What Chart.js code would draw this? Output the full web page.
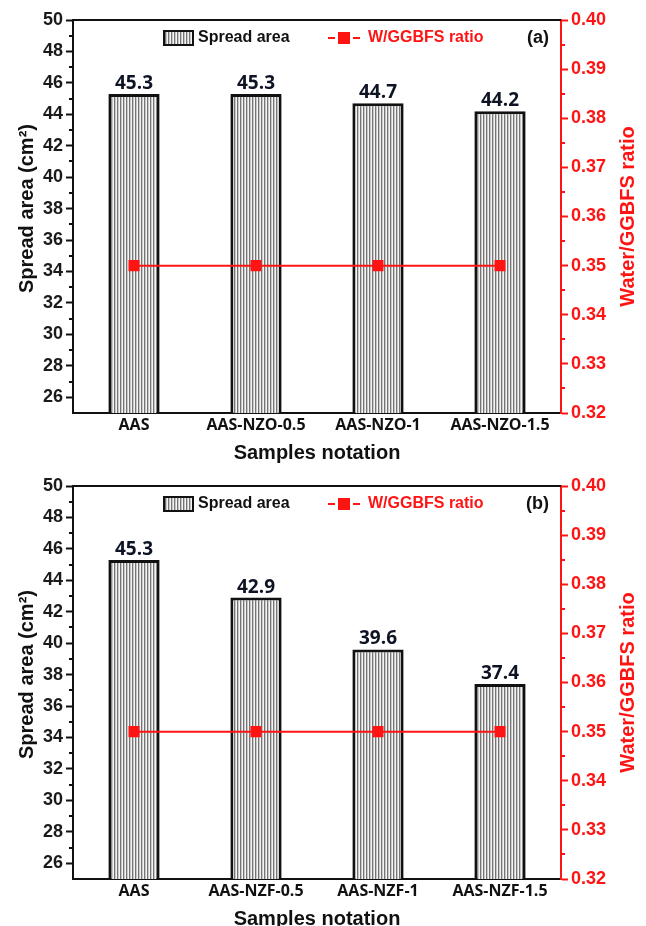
<!DOCTYPE html>
<html>
<head>
<meta charset="utf-8">
<script src="https://cdn.jsdelivr.net/npm/chart.js@4.4.1/dist/chart.umd.min.js"></script>
<style>
  html, body { margin: 0; padding: 0; background: #fff; }
  #wrap { position: relative; width: 646px; height: 926px; }
  .panel { position: absolute; left: 0; width: 646px; height: 463px; }
</style>
</head>
<body>
<div id="wrap">
  <div class="panel" style="top:0"><canvas id="chartA" width="646" height="463"></canvas></div>
  <div class="panel" style="top:463px"><canvas id="chartB" width="646" height="463"></canvas></div>
</div>
<script>
// Sample names for each panel
const samplesA = ['AAS', 'AAS-NZO-0.5', 'AAS-NZO-1', 'AAS-NZO-1.5'];
const samplesB = ['AAS', 'AAS-NZF-0.5', 'AAS-NZF-1', 'AAS-NZF-1.5'];

// Spread area (cm²)
const spreadA = [45.3, 45.3, 44.7, 44.2];
const spreadB = [45.3, 42.9, 39.6, 37.4];

// Water / GGBFS ratio
const ratioA = [0.35, 0.35, 0.35, 0.35];
const ratioB = [0.35, 0.35, 0.35, 0.35];

// Axis ticks
const leftTicks = [26, 28, 30, 32, 34, 36, 38, 40, 42, 44, 46, 48, 50];
const leftMinor = [27, 29, 31, 33, 35, 37, 39, 41, 43, 45, 47, 49];
const rightTicks = [0.32, 0.33, 0.34, 0.35, 0.36, 0.37, 0.38, 0.39, 0.40];
const rightMinor = [0.325, 0.335, 0.345, 0.355, 0.365, 0.375, 0.385, 0.395];

const RED = '#ff1414';
const INK = '#111111';
const ARIAL = "'Liberation Sans', Arial, sans-serif";
const CALI = "'Open Sans', 'Noto Sans', sans-serif";

// Vertical-stripe fill for the bars
function stripePattern() {
  const c = document.createElement('canvas');
  c.width = 3; c.height = 4;
  const g = c.getContext('2d');
  g.fillStyle = '#f4f4f4'; g.fillRect(0, 0, 3, 4);
  g.fillStyle = '#757575'; g.fillRect(0, 0, 1, 4);
  g.fillStyle = '#c8c8c8'; g.fillRect(1, 0, 1, 4);
  return g.createPattern(c, 'repeat');
}

// Minor ticks, top frame line, value labels, legend, axis titles
const decorPlugin = {
  id: 'decor',
  afterDatasetsDraw(chart, args, opts) {
    const ctx = chart.ctx;
    const area = chart.chartArea;
    const yL = chart.scales.y, yR = chart.scales.y1;
    ctx.save();

    // top frame
    ctx.strokeStyle = INK; ctx.lineWidth = 2;
    ctx.beginPath(); ctx.moveTo(area.left - 1, area.top); ctx.lineTo(area.right, area.top); ctx.stroke();

    // minor ticks
    ctx.lineWidth = 2;
    ctx.strokeStyle = INK;
    leftMinor.forEach(v => {
      const p = Math.round(yL.getPixelForValue(v));
      ctx.beginPath(); ctx.moveTo(area.left, p); ctx.lineTo(area.left - 4, p); ctx.stroke();
    });
    ctx.strokeStyle = RED;
    rightMinor.forEach(v => {
      const p = Math.round(yR.getPixelForValue(v));
      ctx.beginPath(); ctx.moveTo(area.right, p); ctx.lineTo(area.right + 4, p); ctx.stroke();
    });

    // bar value labels
    const barMeta = chart.getDatasetMeta(1);
    const vals = chart.data.datasets[1].data;
    ctx.fillStyle = '#0e1424';
    ctx.font = 'bold 19px ' + CALI;
    ctx.textAlign = 'center';
    ctx.textBaseline = 'alphabetic';
    barMeta.data.forEach((bar, i) => {
      ctx.fillText(vals[i].toFixed(1), bar.x, bar.y - 5);
    });

    // legend
    const ly = area.top + 18;
    const bx = area.left + 91;
    ctx.fillStyle = stripePattern();
    ctx.fillRect(bx, ly - 7, 29, 14);
    ctx.strokeStyle = INK; ctx.lineWidth = 2;
    ctx.strokeRect(bx, ly - 7, 29, 14);
    ctx.fillStyle = INK;
    ctx.font = 'bold 16px ' + ARIAL;
    ctx.textAlign = 'left'; ctx.textBaseline = 'middle';
    ctx.fillText('Spread area', bx + 34, ly);

    const rx = area.left + 255;
    ctx.strokeStyle = RED; ctx.lineWidth = 2;
    ctx.beginPath(); ctx.moveTo(rx, ly); ctx.lineTo(rx + 7, ly); ctx.stroke();
    ctx.beginPath(); ctx.moveTo(rx + 25, ly); ctx.lineTo(rx + 32, ly); ctx.stroke();
    ctx.fillStyle = RED;
    ctx.fillRect(rx + 10, ly - 6, 12, 12);
    ctx.font = 'bold 16px ' + ARIAL;
    ctx.fillText('W/GGBFS ratio', rx + 40, ly);

    ctx.fillStyle = INK;
    ctx.font = 'bold 18px ' + ARIAL;
    ctx.textAlign = 'right';
    ctx.fillText(opts.tag, area.right - 12, ly);

    // axis titles
    const midY = (area.top + area.bottom) / 2;
    ctx.font = 'bold 20px ' + ARIAL;
    ctx.textAlign = 'center'; ctx.textBaseline = 'middle';
    ctx.fillStyle = INK;
    ctx.fillText('Samples notation', (area.left + area.right) / 2, area.bottom + 40);

    ctx.save();
    ctx.translate(27, midY - 8);
    ctx.rotate(-Math.PI / 2);
    ctx.fillText('Spread area (cm\u00B2)', 0, 0);
    ctx.restore();

    ctx.save();
    ctx.fillStyle = RED;
    ctx.translate(area.right + 67, midY);
    ctx.rotate(-Math.PI / 2);
    ctx.fillText('Water/GGBFS ratio', 0, 0);
    ctx.restore();

    ctx.restore();
  }
};

function makeChart(id, labels, spread, ratio, tag, padTop, xHeight) {
  return new Chart(document.getElementById(id), {
    data: {
      labels: labels,
      datasets: [
        {
          type: 'line',
          label: 'W/GGBFS ratio',
          data: ratio,
          yAxisID: 'y1',
          order: 0,
          borderColor: RED,
          borderWidth: 2,
          backgroundColor: RED,
          pointStyle: 'rect',
          pointRadius: 7.8,
          pointBorderWidth: 0,
          pointBackgroundColor: RED,
          tension: 0
        },
        {
          type: 'bar',
          label: 'Spread area',
          data: spread,
          yAxisID: 'y',
          order: 1,
          backgroundColor: stripePattern(),
          borderColor: INK,
          borderWidth: 3,
          barPercentage: 0.42,
          categoryPercentage: 1
        }
      ]
    },
    options: {
      responsive: false,
      animation: false,
      events: [],
      layout: { padding: { top: padTop, left: 0, right: 0, bottom: 0 } },
      plugins: {
        legend: { display: false },
        tooltip: { enabled: false },
        decor: { tag: tag }
      },
      scales: {
        x: {
          type: 'category',
          offset: true,
          afterFit: s => { s.height = xHeight; },
          grid: { display: false, drawTicks: false },
          border: { display: true, color: INK, width: 2 },
          ticks: {
            color: INK,
            padding: 3,
            maxRotation: 0,
            autoSkip: false,
            font: { family: CALI, size: 16, weight: 'bold' }
          }
        },
        y: {
          type: 'linear',
          position: 'left',
          min: 25, max: 50,
          afterBuildTicks: s => { s.ticks = leftTicks.map(v => ({ value: v })); },
          afterFit: s => { s.width = 73; },
          grid: { drawOnChartArea: false, drawTicks: true, tickLength: 7, tickWidth: 2, tickColor: INK },
          border: { display: true, color: INK, width: 2 },
          ticks: {
            autoSkip: false,
            color: '#1a1a1a',
            padding: 3,
            font: { family: ARIAL, size: 18, weight: 'bold' }
          }
        },
        y1: {
          type: 'linear',
          position: 'right',
          min: 0.32, max: 0.40,
          afterBuildTicks: s => { s.ticks = rightTicks.map(v => ({ value: v })); },
          afterFit: s => { s.width = 85; },
          grid: { drawOnChartArea: false, drawTicks: true, tickLength: 7, tickWidth: 2, tickColor: RED },
          border: { display: true, color: RED, width: 2 },
          ticks: {
            autoSkip: false,
            color: RED,
            padding: 3,
            font: { family: ARIAL, size: 18, weight: 'bold' },
            callback: v => Number(v).toFixed(2)
          }
        }
      }
    },
    plugins: [decorPlugin]
  });
}

makeChart('chartA', samplesA, spreadA, ratioA, '(a)', 20, 50);
makeChart('chartB', samplesB, spreadB, ratioB, '(b)', 23, 47);
</script>
</body>
</html>
